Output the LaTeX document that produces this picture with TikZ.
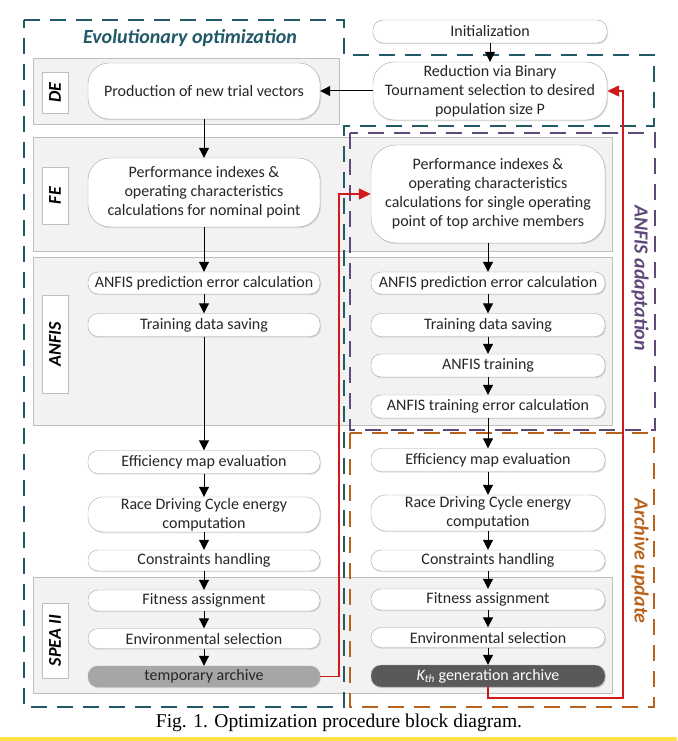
\documentclass[tikz,border=0pt]{standalone}
\usepackage{fontspec}
\setmainfont{Carlito}
\newfontfamily\capfont{Liberation Serif}
\usetikzlibrary{arrows.meta,shadows}

\definecolor{evoteal}{HTML}{215967}
\definecolor{anfispurple}{HTML}{5F497A}
\definecolor{archorange}{RGB}{184,98,28}
\definecolor{loopred}{RGB}{210,25,25}
\definecolor{bandfill}{HTML}{F2F2F2}
\definecolor{bandline}{HTML}{BFBFBF}
\definecolor{boxline}{HTML}{A6A6A6}
\definecolor{tmpfill}{HTML}{A6A6A6}
\definecolor{kthfill}{HTML}{595959}
\definecolor{captionbar}{RGB}{255,226,70}

\begin{document}
\begin{tikzpicture}[x=1pt,y=-1pt]
          \tikzstyle{proc}=[draw=boxline,fill=white,rounded corners=10pt,minimum height=22pt,inner sep=0pt,align=center,text=black!85,font=\fontsize{16}{19}\selectfont,drop shadow={shadow xshift=1pt,shadow yshift=-1.2pt,opacity=0.25}];
          \tikzstyle{lcol}=[proc,minimum width=232pt];
          \tikzstyle{rcol}=[proc,minimum width=234pt];
          \tikzstyle{band}=[draw=bandline,fill=bandfill,drop shadow={shadow xshift=1pt,shadow yshift=-1.2pt,opacity=0.2}];
          \tikzstyle{tag}=[draw=bandline,fill=white,minimum height=26pt,inner sep=0pt,rotate=90,font=\fontsize{18}{18}\selectfont\bfseries\itshape];
          \tikzstyle{frame}=[line width=2.9pt,dash pattern=on 16pt off 10pt];
          \tikzstyle{title}=[font=\fontsize{20}{22}\selectfont\bfseries\itshape];
          \tikzstyle{flow}=[draw=black,line width=1pt,-{Triangle[length=10pt,width=10pt]}];
          \tikzstyle{feedback}=[draw=loopred,line width=1.4pt,-{Triangle[length=12pt,width=11pt]}];
          %\node (name) at (x,y) [style] {text};  y grows downwards
          \useasboundingbox (0,0) rectangle (677,741);
          \fill[white] (0,0) rectangle (677,741);
          % grey bands
          \draw[band] (33,58) rectangle (339,124);
          \draw[band] (33,137) rectangle (612,251);
          \draw[band] (33,257) rectangle (612,425);
          \draw[band] (33,577) rectangle (612,693);
          \node[tag,minimum width=41pt] (deTag) at (55,92.5) {DE};
          \node[tag,minimum width=57pt] (feTag) at (55,195.5) {FE};
          \node[tag,minimum width=98pt] (anfisTag) at (55,344) {ANFIS};
          \node[tag,minimum width=75pt] (speaTag) at (55,640.5) {SPEA II};
          % dashed frames
          \draw[frame,evoteal] (24,20) -- (344,20) -- (344,55) -- (654,55) -- (654,126) -- (344,126) -- (344,707) -- (24,707) -- cycle;
          \draw[frame,anfispurple] (350,133) rectangle (655,430);
          \draw[frame,archorange] (350,433) rectangle (654,707);
          \node[title,evoteal] (evoTitle) at (190,38) {Evolutionary optimization};
          \node[title,anfispurple,rotate=-90] (anfisTitle) at (640,278) {ANFIS adaptation};
          \node[title,archorange,rotate=-90] (archTitle) at (640,561) {Archive update};
          % left column
          \node[lcol,rounded corners=21pt,minimum height=56pt] (prod) at (204,91) {Production of new trial vectors};
          \node[lcol,rounded corners=22pt,minimum height=69pt] (perfL) at (204,192.5) {Performance indexes \&\\operating characteristics\\calculations for nominal point};
          \node[lcol] (predL) at (204,283) {ANFIS prediction error calculation};
          \node[lcol,minimum height=23pt] (saveL) at (204,325) {Training data saving};
          \node[lcol,minimum height=23pt] (effL) at (204,462) {Efficiency map evaluation};
          \node[lcol,rounded corners=15pt,minimum height=35pt] (raceL) at (204,514.5) {Race Driving Cycle energy\\computation};
          \node[lcol,minimum height=21pt] (consL) at (204,560.5) {Constraints handling};
          \node[lcol,minimum height=21pt] (fitL) at (204,600.5) {Fitness assignment};
          \node[lcol,minimum height=20pt] (envL) at (204,638.5) {Environmental selection};
          \node[lcol,minimum height=21pt,fill=tmpfill] (tmp) at (204,676.5) {temporary archive};
          % right column
          \node[rcol,minimum height=23pt] (init) at (490,31.5) {Initialization};
          \node[rcol,rounded corners=21pt,minimum height=58pt] (red) at (490,91) {Reduction via Binary\\Tournament selection to desired\\population size P};
          \node[rcol,rounded corners=25pt,minimum height=98pt] (perfR) at (488,194) {Performance indexes \&\\operating characteristics\\calculations for single operating\\point of top archive members};
          \node[rcol] (predR) at (488,283) {ANFIS prediction error calculation};
          \node[rcol,minimum height=23pt] (saveR) at (488,325) {Training data saving};
          \node[rcol,minimum height=23pt] (trainR) at (488,365.5) {ANFIS training};
          \node[rcol,minimum height=23pt] (errR) at (488,406.5) {ANFIS training error calculation};
          \node[rcol,minimum height=23pt] (effR) at (488,460) {Efficiency map evaluation};
          \node[rcol,rounded corners=15pt,minimum height=36pt] (raceR) at (488,513) {Race Driving Cycle energy\\computation};
          \node[rcol,minimum height=21pt] (consR) at (488,560.5) {Constraints handling};
          \node[rcol,minimum height=21pt] (fitR) at (488,599.5) {Fitness assignment};
          \node[rcol,minimum height=20pt] (envR) at (488,637.5) {Environmental selection};
          \node[rcol,minimum height=22pt,fill=kthfill,text=white] (kth) at (488,676) {{\itshape K\textsubscript{th}} generation archive};
          % flow
          \draw[flow] (init)--(red);
          \draw[flow] (red)--(prod);
          \draw[flow] (prod)--(perfL);
          \draw[flow] (perfL)--(predL);
          \draw[flow] (predL)--(saveL);
          \draw[flow] (saveL)--(effL);
          \draw[flow] (effL)--(raceL);
          \draw[flow] (raceL)--(consL);
          \draw[flow] (consL)--(fitL);
          \draw[flow] (fitL)--(envL);
          \draw[flow] (envL)--(tmp);
          \draw[flow] (perfR)--(predR);
          \draw[flow] (predR)--(saveR);
          \draw[flow] (saveR)--(trainR);
          \draw[flow] (trainR)--(errR);
          \draw[flow] (errR)--(effR);
          \draw[flow] (effR)--(raceR);
          \draw[flow] (raceR)--(consR);
          \draw[flow] (consR)--(fitR);
          \draw[flow] (fitR)--(envR);
          \draw[flow] (envR)--(kth);
          % feedback loops
          \coordinate (tmpBend) at (339,676.5);
          \coordinate (kthBend) at (623,698);
          \draw[feedback] (tmp.east) -- (tmpBend) |- (perfR.west);
          \draw[feedback] (kth.south) |- (kthBend) |- (red.east);
          % caption
          \node[font=\capfont\fontsize{19.5}{21}\selectfont] (caption) at (339,723) {Fig. 1. Optimization procedure block diagram.};
          \fill[captionbar] (0,737) rectangle (677,741);
      \end{tikzpicture}
\end{document}
